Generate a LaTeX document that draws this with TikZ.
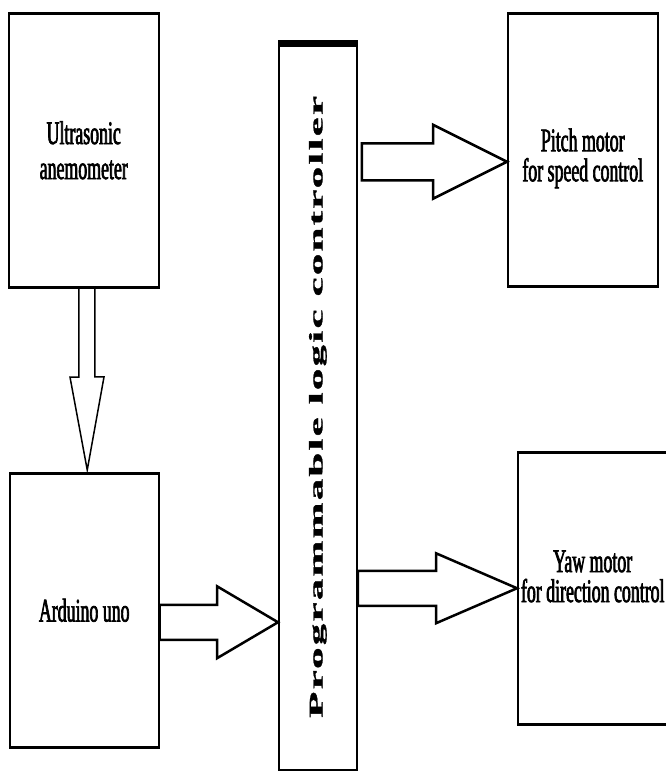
\documentclass[tikz,border=0pt]{standalone}
\usepackage{graphicx}
\usepackage{fontspec}
\setmainfont{Liberation Serif}
\newfontfamily\boxfont[FakeStretch=0.54,FakeBold=2]{Liberation Serif}
\newfontfamily\plcfont[LetterSpace=5,FakeBold=1]{Liberation Serif}
\usetikzlibrary{calc}

% hollow block arrow: [opts]{from}{to}{shaft half}{head half}{head length}
\newcommand{\fatarrow}[6][]{%
  \coordinate (fa-c) at ($(#3)!#6!(#2)$);
  \draw[fat,#1] ($(#2)!#4!90:(#3)$) -- ($(fa-c)!#4!90:(#3)$)
    -- ($(fa-c)!#5!90:(#3)$) -- (#3) -- ($(fa-c)!#5!-90:(#3)$)
    -- ($(fa-c)!#4!-90:(#3)$) -- ($(#2)!#4!-90:(#3)$) -- cycle;}

\begin{document}
\begin{tikzpicture}[x=1pt,y=-1pt,
			every node/.style={align=center},
			blockbox/.style={
				draw,
				line width=1.5pt,
				anchor=north west,
				inner sep=0pt,
				font=\boxfont\fontsize{33}{35}\selectfont
			},
			tight/.style={font=\boxfont\fontsize{33}{30}\selectfont},
			fat/.style={draw,line width=2.5pt,line join=miter,fill=white},
			rim/.style={line width=3pt}]
			
			\useasboundingbox (0,0) rectangle (665,771);
			
			\node[blockbox,minimum width=150pt,minimum height=273pt] (us) at (8,13){Ultrasonic\\anemometer};
			
			\node[blockbox,minimum width=149pt,minimum height=273pt] (ard) at (9,473){Arduino uno};
			
			\node[blockbox,tight,minimum width=150pt,minimum height=272pt] (pitch) at (507,13){\rule{0pt}{40pt}Pitch motor\\for speed control};
			
			\node[blockbox,tight,minimum width=150pt,minimum height=271pt] (yaw) at (517,452){Yaw motor\\for direction control\rule[-24pt]{0pt}{0pt}};
			
			\node[draw,line width=1.8pt,minimum width=78pt,minimum height=726pt,inner sep=0pt,anchor=north west] (plc) at (278,43)
			{\rotatebox{90}{\resizebox{622pt}{13.5pt}{\plcfont\bfseries Programmable logic controller}}};
			
			\coordinate (d1) at ([xshift=3pt]us.south);
			\coordinate (d2) at ([xshift=3pt,yshift=3pt]ard.north);
			\fatarrow[line width=1.5pt]{d1}{d2}{8pt}{17pt}{93pt}
			
			\coordinate (a1) at ([yshift=-12pt]ard.east);
			\coordinate (a2) at (a1 -| plc.west);
			\fatarrow{a1}{a2}{17.5pt}{36pt}{61pt}
			
			\coordinate (p2) at ([yshift=-12pt]pitch.west);
			\path (plc.east |- p2) ++(4,0) coordinate (p1);
			\fatarrow{p1}{p2}{18.5pt}{37pt}{74pt}
			
			\coordinate (y1) at (plc.east |- yaw.west);
			\fatarrow{y1}{yaw.west}{17.5pt}{35pt}{81pt}
			
			\foreach \b in {us,ard,pitch,yaw}
			\draw[rim] (\b.north west) -- (\b.north east) (\b.south west) -- (\b.south east);
			
			\draw[line width=7pt] (plc.north west) -- (plc.north east);
			
		\end{tikzpicture}
\end{document}
